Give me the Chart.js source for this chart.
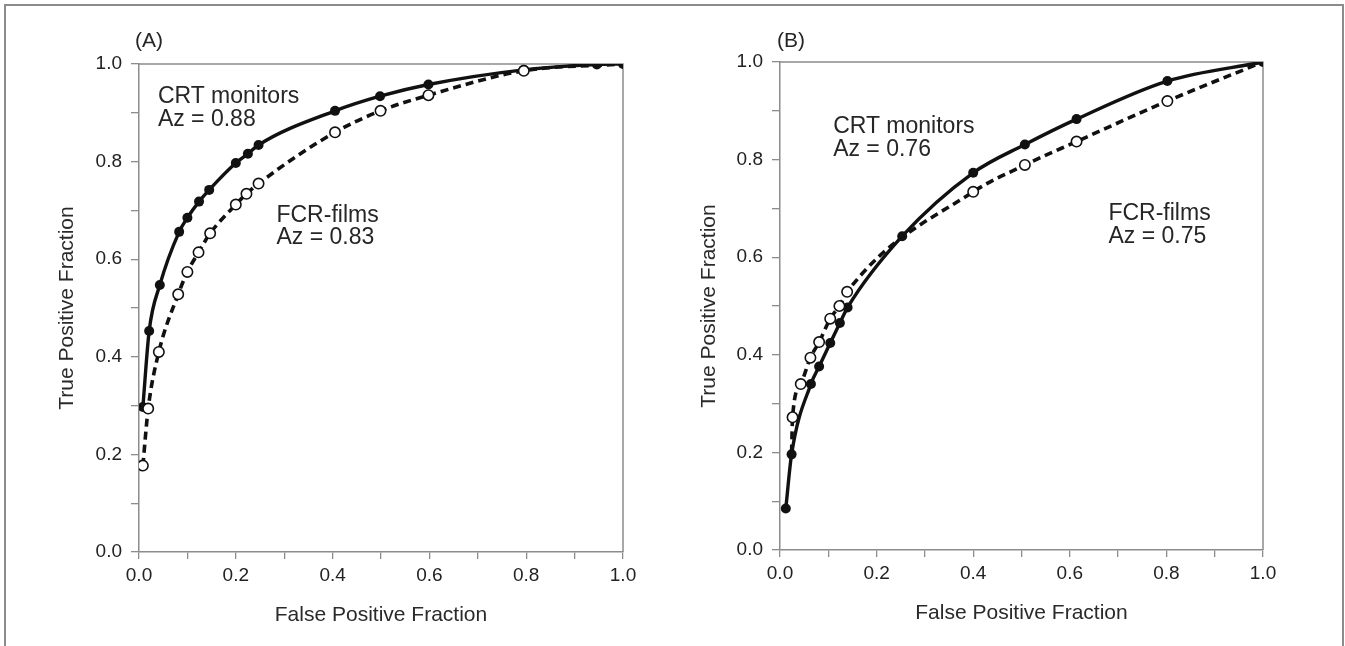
<!DOCTYPE html>
<html><head><meta charset="utf-8">
<script src="https://cdn.jsdelivr.net/npm/chart.js@4/dist/chart.umd.min.js"></script>
<style>
html,body{margin:0;padding:0;background:#fff;}
body{width:1345px;height:646px;position:relative;overflow:hidden;}
#frame{position:absolute;left:4px;top:4px;width:1336px;height:700px;border:2px solid #8c8c8c;border-bottom:none;}
#ca{position:absolute;left:0;top:0;}
#cb{position:absolute;left:672px;top:0;}
</style></head><body>
<div id="frame"></div>
<canvas id="ca" width="672" height="646"></canvas>
<canvas id="cb" width="673" height="646"></canvas>
<script>
// ---------- data ----------
const axisTickLabels = ['0.0','','0.2','','0.4','','0.6','','0.8','','1.0'];
const xTitle = 'False Positive Fraction';
const yTitle = 'True Positive Fraction';

// Panel (A)
const crtA_x = [0.008, 0.021, 0.043, 0.083, 0.100, 0.124, 0.145, 0.200, 0.225, 0.247, 0.405, 0.498, 0.598, 0.795, 0.946, 1.000];
const crtA_y = [0.297, 0.453, 0.547, 0.656, 0.685, 0.718, 0.742, 0.797, 0.816, 0.834, 0.904, 0.934, 0.958, 0.988, 0.999, 1.000];
const fcrA_x = [0.008, 0.019, 0.041, 0.081, 0.100, 0.123, 0.147, 0.200, 0.222, 0.247, 0.405, 0.499, 0.598, 0.795];
const fcrA_y = [0.177, 0.294, 0.410, 0.528, 0.574, 0.614, 0.653, 0.712, 0.734, 0.755, 0.860, 0.904, 0.936, 0.986];
// curve-only end points (no marker)
const fcrA_curveEndX = [1.000];
const fcrA_curveEndY = [1.000];

// Panel (B)
const crtB_x = [0.012, 0.024, 0.064, 0.081, 0.104, 0.124, 0.140, 0.253, 0.400, 0.507, 0.614, 0.802, 1.000];
const crtB_y = [0.085, 0.196, 0.340, 0.376, 0.424, 0.465, 0.497, 0.643, 0.773, 0.831, 0.883, 0.961, 1.000];
const fcrB_x = [0.026, 0.043, 0.063, 0.081, 0.104, 0.123, 0.139, 0.400, 0.507, 0.614, 0.802];
const fcrB_y = [0.272, 0.340, 0.394, 0.426, 0.474, 0.500, 0.529, 0.734, 0.789, 0.837, 0.920];
const fcrB_curveStartX = [0.024];
const fcrB_curveStartY = [0.200];
const fcrB_curveEndX = [1.000];
const fcrB_curveEndY = [1.000];

const annotA = [
  {text:'CRT monitors', x:0.039, y:0.920},
  {text:'Az = 0.88',    x:0.039, y:0.872},
  {text:'FCR-films',    x:0.284, y:0.676},
  {text:'Az = 0.83',    x:0.284, y:0.631}
];
const annotB = [
  {text:'CRT monitors', x:0.110, y:0.855},
  {text:'Az = 0.76',    x:0.110, y:0.807},
  {text:'FCR-films',    x:0.680, y:0.676},
  {text:'Az = 0.75',    x:0.680, y:0.629}
];
// ---------------------------------------------------

const FONT = "'Liberation Sans', Arial, Helvetica, sans-serif";
Chart.defaults.font.family = FONT;

function pts(xs, ys){ return xs.map((x,i)=>({x:x, y:ys[i]})); }
function curve(){ 
  let all = [];
  for (let k=0;k<arguments.length;k+=2) all = all.concat(pts(arguments[k], arguments[k+1]));
  return all.sort((a,b)=>a.x-b.x);
}

const boxPlugin = {
  id:'box',
  beforeDatasetsDraw(chart){
    const {ctx, chartArea:a} = chart;
    ctx.save();
    ctx.strokeStyle = '#8c8c8c'; ctx.lineWidth = 1.5;
    ctx.beginPath();
    ctx.moveTo(a.left, a.top); ctx.lineTo(a.right, a.top); ctx.lineTo(a.right, a.bottom);
    ctx.stroke();
    ctx.restore();
  }
};
const textPlugin = {
  id:'texts',
  afterDatasetsDraw(chart, args, opts){
    const {ctx, chartArea:a, scales} = chart;
    ctx.save();
    ctx.fillStyle = '#262626';
    ctx.textBaseline = 'alphabetic';
    ctx.textAlign = 'left';
    ctx.font = '23px ' + FONT;
    opts.items.forEach(t => {
      ctx.fillText(t.text, scales.x.getPixelForValue(t.x), scales.y.getPixelForValue(t.y));
    });
    ctx.font = '21px ' + FONT;
    ctx.fillText(opts.panel, a.left + opts.panelDx, a.top + opts.panelDy);
    ctx.restore();
  }
};

function makeChart(id, cfg){
  const axisColor = '#8c8c8c';
  const tickFont = {size:19};
  const titleFont = {size:21};
  return new Chart(document.getElementById(id), {
    type:'scatter',
    data:{datasets:[
      {data:pts(cfg.fx, cfg.fy), showLine:false, pointRadius:5.2, pointBackgroundColor:'#fff', pointBorderColor:'#111', pointBorderWidth:1.6},
      {data:pts(cfg.cx, cfg.cy), showLine:false, pointRadius:5.0, pointBackgroundColor:'#111', pointBorderColor:'#111', pointBorderWidth:0},
      {data:cfg.fCurve, showLine:true, pointRadius:0, borderColor:'#111', borderWidth:3.6, borderDash:[8,5], cubicInterpolationMode:'monotone', fill:false},
      {data:cfg.cCurve, showLine:true, pointRadius:0, borderColor:'#111', borderWidth:3.4, cubicInterpolationMode:'monotone', fill:false}
    ]},
    options:{
      responsive:false, animation:false, events:[],
      layout:{padding:{left:0, right:cfg.padRight, top:cfg.padTop, bottom:0}},
      plugins:{legend:{display:false}, tooltip:{enabled:false},
        texts:{items:cfg.annot, panel:cfg.panel, panelDx:cfg.panelDx, panelDy:cfg.panelDy}},
      scales:{
        x:{type:'linear', min:0, max:1, position:'bottom',
          ticks:{stepSize:0.1, autoSkip:false, maxRotation:0, font:tickFont, color:'#222', padding:5,
            callback:(v,i)=>axisTickLabels[i]},
          grid:{drawOnChartArea:false, drawTicks:true, tickLength:7, color:axisColor, lineWidth:1.3},
          border:{color:axisColor, width:1.5},
          title:{display:true, text:xTitle, font:titleFont, color:'#2a2a2a', padding:{top:0,bottom:cfg.xTitlePad}},
          afterFit:s=>{s.height = cfg.xAxisH;}
        },
        y:{type:'linear', min:0, max:1, position:'left',
          ticks:{stepSize:0.1, autoSkip:false, font:tickFont, color:'#222', padding:9,
            callback:(v,i)=>axisTickLabels[i]},
          grid:{drawOnChartArea:false, drawTicks:true, tickLength:8, color:axisColor, lineWidth:1.3},
          border:{color:axisColor, width:1.5},
          title:{display:true, text:yTitle, font:titleFont, color:'#2a2a2a', padding:{top:cfg.yTitlePad,bottom:0}},
          afterFit:s=>{s.width = cfg.yAxisW;}
        }
      }
    },
    plugins:[boxPlugin, textPlugin]
  });
}

makeChart('ca', {
  cx:crtA_x, cy:crtA_y, fx:fcrA_x, fy:fcrA_y,
  cCurve:curve(crtA_x, crtA_y),
  fCurve:curve(fcrA_x, fcrA_y, fcrA_curveEndX, fcrA_curveEndY),
  annot:annotA, panel:'(A)', panelDx:-4, panelDy:-17,
  padRight:49, padTop:64, xAxisH:94, yAxisW:139, xTitlePad:18, yTitlePad:55
});
makeChart('cb', {
  cx:crtB_x, cy:crtB_y, fx:fcrB_x, fy:fcrB_y,
  cCurve:curve(crtB_x, crtB_y),
  fCurve:curve(fcrB_curveStartX, fcrB_curveStartY, fcrB_x, fcrB_y, fcrB_curveEndX, fcrB_curveEndY),
  annot:annotB, panel:'(B)', panelDx:-3, panelDy:-15,
  padRight:82, padTop:62, xAxisH:96, yAxisW:108, xTitlePad:20, yTitlePad:25
});
</script>
</body></html>
